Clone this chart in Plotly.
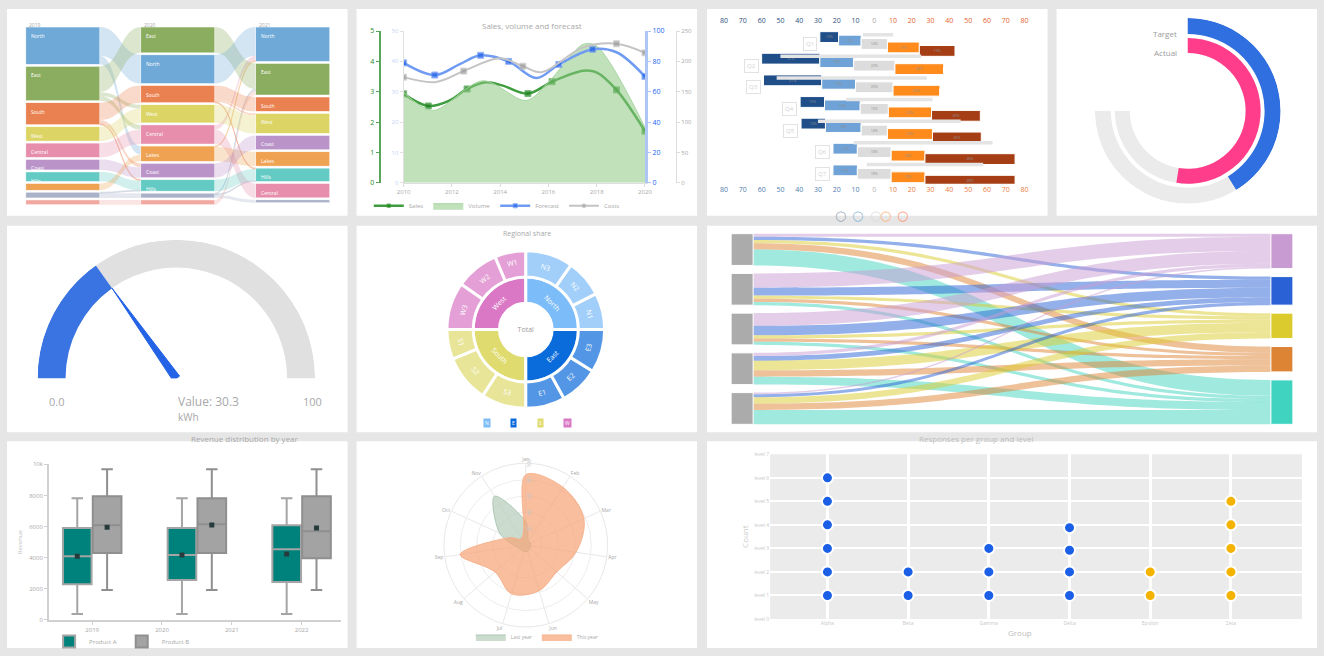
import plotly.graph_objects as go

W, H = 1324, 656
# the captured page comes out about 1.2% smaller round its centre; lay out a touch wider
SHRINK = 0.988
PAGE_BG = "#e6e6e6"
GREY_TEXT = "#a8a8a8"

# panel rectangles in page pixels: (left, top, right, bottom)
PANELS = [
    (8, 8, 348, 215), (357, 8, 697, 215), (707, 8, 1047, 215), (1056, 8, 1316, 215),
    (8, 225, 348, 432), (357, 225, 697, 432), (707, 225, 1316, 432),
    (8, 441, 348, 648), (357, 441, 697, 648), (707, 441, 1316, 648),
]

# --- A: alluvial (3 stages) ---
A_STAGES = ["2019", "2020", "2021"]
A_CATS = ["North", "East", "South", "West", "Central", "Coast", "Hills", "Lakes", "Isles", "Other"]
A_COLORS = ["#6ea9d7", "#8bad5f", "#ea8151", "#dcd566", "#e68eab",
            "#ba93c9", "#63cbc4", "#f0a253", "#a9b2c9", "#f1a8a0"]
A_STAGE_VALUES = [
    [39, 36, 23, 15, 15, 11, 10, 7, 6, 5],
    [30, 27, 18, 19, 20, 15, 12, 16, 5, 5],
    [36, 33, 15, 21, 15, 15, 14, 15, 3, 0],
]
A_STAGE_ORDER = [
    [0, 1, 2, 3, 4, 5, 6, 7, 8, 9],
    [1, 0, 2, 3, 4, 7, 5, 6, 8, 9],
    [0, 1, 2, 3, 5, 7, 6, 4, 8],
]
# (from category, to category, amount) between consecutive stages
A_MOVES = [
    [(0, 7, 9), (1, 4, 5), (1, 3, 4), (2, 5, 4), (2, 6, 1), (8, 6, 1)],
    [(4, 0, 5), (7, 0, 1), (9, 1, 5), (8, 1, 1), (2, 3, 2), (2, 6, 1), (8, 6, 1)],
]

# --- B: multi-axis lines ---
B_TICKS = [0, 2, 4, 6, 8, 10]
B_TICK_TEXT = ["2010", "2012", "2014", "2016", "2018", "2020"]
B_SALES_X = [0, 1.02, 1.9, 2.63, 3.42, 4.11, 5.15, 6.15, 7.44, 7.99, 8.82, 10]
B_SALES_Y = [2.93, 2.53, 2.71, 3.09, 3.31, 3.2, 2.94, 3.33, 3.69, 3.64, 3.06, 1.70]
B_SALES_MARK = [1, 1, 0, 1, 0, 0, 1, 1, 0, 0, 1, 1]
B_AREA_X = [0, 1.2, 3.28, 5.08, 6.05, 7.44, 7.99, 10]
B_AREA_Y = [29.8, 23.8, 33.6, 27.1, 33.6, 45.6, 45.1, 18.3]
B_PLAN_X = [0, 1.29, 2.31, 3.19, 4.35, 5.5, 6.43, 7.83, 8.82, 10]
B_PLAN_Y = [79, 71, 78, 84, 80, 69, 78, 88, 86, 70]
B_PLAN_MARK = [1, 1, 0, 1, 1, 0, 1, 1, 0, 1]
B_COST_X = [0, 1.34, 2.49, 3.98, 4.94, 5.71, 7.44, 8.82, 10]
B_COST_Y = [174, 166, 184, 205, 192, 182, 223, 229, 214]
B_COST_MARK = [1, 0, 1, 0, 1, 0, 0, 1, 1]

# --- C: diverging likert bars ---
C_ROWS = ["Q1", "Q2", "Q3", "Q4", "Q5", "Q6", "Q7"]
C_LEVELS = ["Strongly disagree", "Disagree", "Neutral", "Agree", "Strongly agree"]
C_COLORS = ["#1f4e89", "#6fa2d6", "#dcdcdc", "#ff8b1c", "#a63e15"]
C_STRONG_NEG = [10, 31, 31, 13, 13, 0, 0]
C_NEG = [12, 18, 18, 19, 19, 13, 13]
C_NEUTRAL = [14, 22, 20, 15, 14, 18, 18]
C_POS = [17, 26, 25, 23, 24, 18, 18]
C_STRONG_POS = [19, 0, 0, 26, 26, 48, 48]
C_SPAN_LO = [-6, -50, -52, -15, -30, -11, -4]
C_SPAN_HI = [10, 25, 28, 31, 46, 63, 58]
C_TICKS = list(range(-80, 81, 10))
C_ICON_COLORS = ["#9aa6b6", "#8db7d8", "#dedede", "#ffb37a", "#ff8f6e"]

# --- D: radial progress ---
D_SERIES = ["Target", "Actual"]
D_VALUES = [55, 70]
D_MAX = 100
D_COLORS = ["#2f6fe0", "#ff3d8a"]

# --- E: gauge ---
E_VALUE = 30.3
E_MIN, E_MAX = 0, 100

# --- F: sunburst (groups listed counterclockwise from 12 o'clock) ---
F_ROOT = "Total"
F_GROUPS = ["West", "South", "East", "North"]
F_GROUP_COLORS = ["#da78c6", "#dfdb6f", "#0a6bdb", "#7cbcf8"]
F_LEAVES = [["W1", "W2", "W3"], ["S1", "S2", "S3"], ["E1", "E2", "E3"], ["N1", "N2", "N3"]]
F_LEAF_VALUES = [[23, 32, 35], [22, 35, 33], [29, 29, 32], [27, 28, 35]]
F_LEGEND_ORDER = [3, 2, 1, 0]

# --- G: sankey ---
G_SOURCES = ["Web", "Store", "Phone", "Partner", "Email"]
G_TARGETS = ["Basic", "Plus", "Pro", "Team", "Enterprise"]
G_TARGET_COLORS = ["#c99bd3", "#2a62d6", "#dccb2e", "#dd8434", "#3fd3c0"]
G_FLOWS = [
    [2, 2, 2, 4, 10],
    [9, 5, 2, 2, 2],
    [8, 6, 2, 2, 2],
    [2, 3, 6, 4, 5],
    [1, 2, 4, 4, 9],
]

# --- H: box plots ---
H_POSITIONS = [0, 1.5, 3]
H_TICKS = [0, 1, 2, 3]
H_TICK_TEXT = ["2019", "2020", "2021", "2022"]
H_SERIES = ["Product A", "Product B"]
H_COLORS = ["#00827c", "#a3a3a3"]
H_LOW = [[380, 380, 380], [1920, 1920, 1920]]
H_Q1 = [[2300, 2560, 2440], [4300, 4300, 3970]]
H_MED = [[4100, 4170, 4550], [6090, 6150, 5700]]
H_Q3 = [[5900, 5900, 6090], [7950, 7820, 7950]]
H_HIGH = [[7820, 7820, 7820], [9680, 9680, 9680]]
H_MEAN = [[4100, 4170, 4230], [5960, 6100, 5900]]

# --- I: radar ---
I_AXES = ["Jan", "Feb", "Mar", "Apr", "May", "Jun", "Jul", "Aug", "Sep", "Oct", "Nov"]
I_LAST = [28, 6, 6, 6, 6, 8, 8, 8, 12, 35, 71]
I_THIS = [86, 84, 78, 62, 50, 58, 62, 50, 81, 22, 10]

# --- J: dot strips ---
J_GROUPS = ["Alpha", "Beta", "Gamma", "Delta", "Epsilon", "Zeta"]
J_LEVELS = [[1, 2, 3, 4, 5, 6], [1, 2], [1, 2, 3], [1, 2, 2.92, 3.88], [1, 2], [1, 2, 3, 4, 5]]
J_COLORS = ["#1a5fe6", "#1a5fe6", "#1a5fe6", "#1a5fe6", "#f5b301", "#f5b301"]


def fx(x):
    return (W / 2 + (x - W / 2) / SHRINK) / W


def fy(y):
    return 1 - (H / 2 + (y - H / 2) / SHRINK) / H


def rgba(color, alpha):
    c = color.lstrip("#")
    return f"rgba({int(c[0:2], 16)},{int(c[2:4], 16)},{int(c[4:6], 16)},{alpha})"


def note(x, y, text, size=7, color=GREY_TEXT, **kw):
    return dict(x=fx(x), y=fy(y), xref="paper", yref="paper", text=text, showarrow=False,
                font=dict(size=size, color=color), **kw)


def build_alluvial():
    x0, x1, y0, y1 = 35, 322, 26, 204
    thick, pad = 74, 2
    span = y1 - y0
    col_x = [0.1, 0.5, 0.9]
    ky = min((span - (len(order) - 1) * pad) / sum(A_STAGE_VALUES[s][c] for c in order)
             for s, order in enumerate(A_STAGE_ORDER))
    index, colors, xs, ys, notes = {}, [], [], [], []
    for s, order in enumerate(A_STAGE_ORDER):
        left = x0 + col_x[s] * (x1 - x0) - thick / 2
        notes.append(note(left + 1, 19, A_STAGES[s], size=5, xanchor="left"))
        top = 0
        for c in order:
            h = A_STAGE_VALUES[s][c] * ky
            index[(s, c)] = len(colors)
            colors.append(A_COLORS[c])
            xs.append(col_x[s])
            ys.append((top + h / 2) / span)
            if h > 9:
                notes.append(note(left + 3, y0 + top + 4, A_CATS[c], size=5, color="white",
                                  xanchor="left"))
            top += h + pad
    src, tgt, val, lcol = [], [], [], []
    for s, moves in enumerate(A_MOVES):
        given = [0] * len(A_CATS)
        for a, b, v in moves:
            given[a] += v
            src.append(index[(s, a)])
            tgt.append(index[(s + 1, b)])
            val.append(v)
            lcol.append(rgba(A_COLORS[a], 0.3))
        for c in A_STAGE_ORDER[s]:
            v = A_STAGE_VALUES[s][c] - given[c]
            if v > 0:
                src.append(index[(s, c)])
                tgt.append(index[(s + 1, c)])
                val.append(v)
                lcol.append(rgba(A_COLORS[c], 0.3))
    trace = go.Sankey(
        domain=dict(x=[fx(x0), fx(x1)], y=[fy(y1), fy(y0)]),
        arrangement="snap", hoverinfo="none",
        node=dict(label=[""] * len(colors), color=colors, x=xs, y=ys, pad=pad,
                  thickness=thick, line=dict(color="white", width=0.5)),
        link=dict(source=src, target=tgt, value=val, color=lcol),
    )
    return trace, notes


def build_sankey():
    x0, x1, y0, y1 = 731, 1292, 233, 424
    thick, pad = 22, 8
    span = y1 - y0
    out_tot = [sum(r) for r in G_FLOWS]
    in_tot = [sum(r[j] for r in G_FLOWS) for j in range(len(G_TARGETS))]
    ky = (span - (len(G_SOURCES) - 1) * pad) / sum(out_tot)
    xs, ys = [], []
    for totals, xpos in ((out_tot, thick / 2 / (x1 - x0)), (in_tot, 1 - thick / 2 / (x1 - x0))):
        top = 0
        for t in totals:
            xs.append(xpos)
            ys.append((top + t * ky / 2) / span)
            top += t * ky + pad
    n = len(G_SOURCES)
    src, tgt, val, lcol = [], [], [], []
    for i, row in enumerate(G_FLOWS):
        for j, v in enumerate(row):
            src.append(i)
            tgt.append(n + j)
            val.append(v)
            lcol.append(rgba(G_TARGET_COLORS[j], 0.5))
    return go.Sankey(
        domain=dict(x=[fx(x0), fx(x1)], y=[fy(y1), fy(y0)]),
        arrangement="snap", hoverinfo="none",
        node=dict(label=[""] * (n + len(G_TARGETS)), x=xs, y=ys, pad=pad, thickness=thick,
                  color=["#ababab"] * n + G_TARGET_COLORS, line=dict(color="white", width=1)),
        link=dict(source=src, target=tgt, value=val, color=lcol),
    )


fig = go.Figure()
annotations = []

# A
trace_a, notes_a = build_alluvial()
fig.add_trace(trace_a)
annotations += notes_a

# B
fig.add_trace(go.Scatter(
    x=B_AREA_X, y=B_AREA_Y, name="Volume", yaxis="y2", mode="lines", fill="tozeroy",
    line=dict(color="#a9d6a3", width=1, shape="spline", smoothing=0.9),
    fillcolor="rgba(140,200,130,0.55)", legendrank=2,
))
fig.add_trace(go.Scatter(
    x=B_COST_X, y=B_COST_Y, name="Costs", yaxis="y4", mode="lines+markers",
    line=dict(color="#c4c4c4", width=2, shape="spline"),
    marker=dict(color="#9a9a9a", size=[6 if m else 0 for m in B_COST_MARK], symbol="square"),
    legendrank=4,
))
fig.add_trace(go.Scatter(
    x=B_PLAN_X, y=B_PLAN_Y, name="Forecast", yaxis="y3", mode="lines+markers",
    line=dict(color="#6f9bf2", width=2.5, shape="spline"),
    marker=dict(color="#1f5fe8", size=[6 if m else 0 for m in B_PLAN_MARK], symbol="square"),
    legendrank=3,
))
fig.add_trace(go.Scatter(
    x=B_SALES_X, y=B_SALES_Y, name="Sales", yaxis="y", mode="lines+markers",
    line=dict(color="#3e9c3e", width=2.5, shape="spline"),
    marker=dict(color="#1a7f1a", size=[6 if m else 0 for m in B_SALES_MARK], symbol="square"),
    legendrank=1,
))
annotations.append(note(532, 17, "Sales, volume and forecast", size=8))

# C
c_left = [-(a + b + n / 2) for a, b, n in zip(C_STRONG_NEG, C_NEG, C_NEUTRAL)]
c_bases = [
    c_left,
    [l + a for l, a in zip(c_left, C_STRONG_NEG)],
    [-n / 2 for n in C_NEUTRAL],
    [n / 2 for n in C_NEUTRAL],
    [n / 2 + p for n, p in zip(C_NEUTRAL, C_POS)],
]
c_values = [C_STRONG_NEG, C_NEG, C_NEUTRAL, C_POS, C_STRONG_POS]
rows = list(range(len(C_ROWS)))
for level, vals, base, color in zip(C_LEVELS, c_values, c_bases, C_COLORS):
    fig.add_trace(go.Bar(
        x=vals, y=rows, base=base, orientation="h", name=level, width=0.5,
        xaxis="x2", yaxis="y5", showlegend=False,
        marker=dict(color=color, line=dict(color="white", width=1)),
        text=[f"{v}%" if v else "" for v in vals], textposition="inside",
        insidetextanchor="middle", textfont=dict(size=6, color="#8f8f8f"),
    ))
span_x, span_y = [], []
for i, (lo, hi) in enumerate(zip(C_SPAN_LO, C_SPAN_HI)):
    span_x += [lo, hi, None]
    span_y += [i - 0.43, i - 0.43, None]
fig.add_trace(go.Scatter(x=span_x, y=span_y, xaxis="x3", yaxis="y5", mode="lines",
                         line=dict(color="#e4e4e4", width=3.5), showlegend=False,
                         hoverinfo="skip"))
for i, name in enumerate(C_ROWS):
    annotations.append(dict(x=c_left[i] - 1.5, y=i, xref="x2", yref="y5", text=name,
                            showarrow=False, xanchor="right", font=dict(size=6, color="#d2d2d2"),
                            bgcolor="white", bordercolor="#e2e2e2", borderwidth=1, borderpad=2))
for k, color in enumerate(C_ICON_COLORS):
    annotations.append(dict(x=fx(840 + 17.5 * k), y=fy(205), xref="paper", yref="paper",
                            text="○", showarrow=False,
                            font=dict(family="DejaVu Sans", size=13, color=color)))


def tick_labels(neg, mid, pos):
    return [f"<span style='color:{neg if v < 0 else pos if v > 0 else mid}'>{abs(v)}</span>"
            for v in C_TICKS]


# D
track_theta = 270
for ring, (base, width) in enumerate(((77, 16), (58, 15))):
    fig.add_trace(go.Barpolar(r=[width], base=[base], theta=[track_theta / 2], width=[track_theta],
                              marker=dict(color="#ebebeb", line=dict(width=0)),
                              subplot="polar", showlegend=False, hoverinfo="skip"))
    ang = D_VALUES[ring] / D_MAX * track_theta
    fig.add_trace(go.Barpolar(r=[width], base=[base], theta=[ang / 2], width=[ang],
                              marker=dict(color=D_COLORS[ring], line=dict(width=0)),
                              name=D_SERIES[ring], subplot="polar", showlegend=False))
annotations.append(note(1178, 25, D_SERIES[0], size=8, color="#9a9a9a", xanchor="right"))
annotations.append(note(1178, 44, D_SERIES[1], size=8, color="#9a9a9a", xanchor="right"))

# E
frac = (E_VALUE - E_MIN) / (E_MAX - E_MIN)
fig.add_trace(go.Barpolar(r=[28], base=[111], theta=[90], width=[180], subplot="polar2",
                          marker=dict(color="#e0e0e0", line=dict(width=0)),
                          showlegend=False, hoverinfo="skip"))
fig.add_trace(go.Barpolar(r=[28], base=[111], theta=[frac * 90], width=[frac * 180],
                          subplot="polar2", marker=dict(color="#3a74e3", line=dict(width=0)),
                          showlegend=False))
needle = frac * 180
fig.add_trace(go.Scatterpolar(r=[4, 111, 4, 4], theta=[needle - 90, needle, needle + 90, needle - 90],
                              mode="lines", fill="toself", fillcolor="#2463e6",
                              line=dict(color="#2463e6", width=1), subplot="polar2",
                              showlegend=False, hoverinfo="skip"))
annotations += [
    note(48, 401, f"{E_MIN:.1f}", size=11),
    note(177, 401, f"Value: {E_VALUE}", size=12),
    note(302, 401, f"{E_MAX}", size=11),
    note(177, 417, "kWh", size=10),
]

# F
ids, labels, parents, values, colors = [F_ROOT], [F_ROOT], [""], [0], ["white"]
for g, gcolor, leaves, lvals in zip(F_GROUPS, F_GROUP_COLORS, F_LEAVES, F_LEAF_VALUES):
    ids.append(g); labels.append(g); parents.append(F_ROOT); values.append(0); colors.append(gcolor)
    for leaf, v in zip(leaves, lvals):
        ids.append(f"{g}-{leaf}"); labels.append(leaf); parents.append(g); values.append(v)
        colors.append(gcolor)
fig.add_trace(go.Sunburst(
    ids=ids, labels=labels, parents=parents, values=values, sort=False, rotation=90,
    domain=dict(x=[fx(447), fx(605)], y=[fy(408), fy(250)]),
    marker=dict(colors=colors, line=dict(color="white", width=3)),
    textfont=dict(size=7, color=["#9a9a9a"] + ["white"] * (len(ids) - 1)),
    insidetextorientation="tangential", hoverinfo="label+value",
))
annotations.append(note(527, 233, "Regional share", size=7))
for k, gi in enumerate(F_LEGEND_ORDER):
    annotations.append(note(487 + 27 * k, 423, F_GROUPS[gi][0], size=5, color="white",
                            bgcolor=F_GROUP_COLORS[gi], borderpad=1))

# G
fig.add_trace(build_sankey())

# H
slot = (H_POSITIONS[1] - H_POSITIONS[0]) * (1 - 0.43) / 2
for k, name in enumerate(H_SERIES):
    fig.add_trace(go.Box(
        x=H_POSITIONS, q1=H_Q1[k], median=H_MED[k], q3=H_Q3[k], lowerfence=H_LOW[k],
        upperfence=H_HIGH[k], name=name, fillcolor=H_COLORS[k],
        line=dict(color="#a5a5a5" if k == 0 else "#8f8f8f", width=2), whiskerwidth=0.4,
        xaxis="x4", yaxis="y6", legend="legend4", boxpoints=False, hoverinfo="skip",
    ))
    offset = slot / 2 * (1 if k else -1)
    fig.add_trace(go.Scatter(
        x=[p + offset for p in H_POSITIONS], y=H_MEAN[k], mode="markers", xaxis="x4", yaxis="y6",
        marker=dict(symbol="square", size=5, color="#263c3c"), showlegend=False, hoverinfo="skip",
    ))
annotations.append(note(190, 446, "Revenue distribution by year", size=8))

# I
for name, vals, fill, line in (("Last year", I_LAST, "rgba(185,208,190,0.75)", "rgba(170,195,175,0.9)"),
                               ("This year", I_THIS, "rgba(245,165,120,0.72)", "rgba(245,175,135,0.9)")):
    fig.add_trace(go.Scatterpolar(
        r=vals + vals[:1], theta=I_AXES + I_AXES[:1], name=name, subplot="polar3",
        mode="lines", fill="toself", fillcolor=fill, line=dict(color=line, width=1, shape="spline"),
        legend="legend5",
    ))

# J
jx, jy, jc = [], [], []
for k, levels in enumerate(J_LEVELS):
    jx += [k] * len(levels)
    jy += levels
    jc += [J_COLORS[k]] * len(levels)
fig.add_trace(go.Scatter(x=jx, y=jy, mode="markers", xaxis="x5", yaxis="y7", showlegend=False,
                         marker=dict(size=11, color=jc, line=dict(color="white", width=2))))
annotations.append(note(1034, 446, "Responses per group and level", size=8, color="#bdbdbd"))
annotations.append(note(1033, 640, "Group", size=8, color="#bdbdbd"))

shapes = [dict(type="rect", xref="paper", yref="paper", x0=fx(a), x1=fx(c), y0=fy(d), y1=fy(b),
               fillcolor="white", line=dict(width=0), layer="below") for a, b, c, d in PANELS]
shapes.append(dict(type="rect", xref="x5 domain", yref="y7 domain", x0=0, x1=1, y0=0, y1=1,
                   fillcolor="#ebebeb", line=dict(width=0), layer="below"))

small = dict(size=6, color=GREY_TEXT)
fig.update_layout(
    autosize=True, margin=dict(l=0, r=0, t=0, b=0),
    paper_bgcolor=PAGE_BG, plot_bgcolor="white",
    font=dict(family="Open Sans", color=GREY_TEXT),
    shapes=shapes, annotations=annotations,
    boxmode="group", boxgap=0.43, boxgroupgap=0.04,
    # B axes
    xaxis=dict(domain=[fx(404), fx(645)], anchor="y", range=[0, 10], tickvals=B_TICKS,
               ticktext=B_TICK_TEXT, tickfont=small, showgrid=False, zeroline=False,
               showline=True, linecolor="#dddddd", ticks="outside", ticklen=3, tickcolor="#dddddd"),
    yaxis=dict(domain=[fy(182), fy(30)], anchor="free", position=fx(380), range=[0, 5],
               tickvals=[0, 1, 2, 3, 4, 5], tickfont=dict(size=7, color="#1f8a1f"),
               showgrid=False, zeroline=False, showline=True, linecolor="#5aa55a", linewidth=2,
               ticks="outside", ticklen=3, tickcolor="#5aa55a"),
    yaxis2=dict(overlaying="y", anchor="x", side="left", range=[0, 50],
                tickvals=[0, 10, 20, 30, 40, 50], tickfont=dict(size=6, color="#c5d5f5"),
                showgrid=False, zeroline=False, showline=True, linecolor="#e0e0e0",
                ticks="outside", ticklen=3, tickcolor="#e0e0e0"),
    yaxis3=dict(overlaying="y", anchor="x", side="right", range=[0, 100],
                tickvals=[0, 20, 40, 60, 80, 100], tickfont=dict(size=7, color="#1a5ff0"),
                showgrid=False, zeroline=False, showline=True, linecolor="#adc6f5", linewidth=3,
                ticks="outside", ticklen=3, tickcolor="#adc6f5"),
    yaxis4=dict(overlaying="y", anchor="free", side="right", position=fx(676), range=[0, 250],
                tickvals=[0, 50, 100, 150, 200, 250], tickfont=small, showgrid=False,
                zeroline=False, showline=True, linecolor="#dddddd", ticks="outside", ticklen=3,
                tickcolor="#dddddd"),
    legend=dict(x=fx(497), y=fy(205), xanchor="center", yanchor="middle", orientation="h",
                font=small, bgcolor="rgba(0,0,0,0)", itemwidth=30),
    # C axes: rows sit 21.67 px apart from y=43
    xaxis2=dict(domain=[fx(715), fx(1035)], anchor="y5", range=[-84.8, 85.9], tickvals=C_TICKS,
                ticktext=tick_labels("#4f7db0", "#b5b5b5", "#ea7b42"), tickfont=dict(size=7),
                showgrid=False, zeroline=False, showline=False),
    xaxis3=dict(overlaying="x2", matches="x2", anchor="y5", side="top", tickvals=C_TICKS,
                ticktext=tick_labels("#2d4f7c", "#a8a8a8", "#e5612b"), tickfont=dict(size=7),
                showgrid=False, zeroline=False, showline=False),
    yaxis5=dict(domain=[fy(183), fy(24)], anchor="x2", range=[6.46, -0.877], visible=False),
    # H axes
    xaxis4=dict(domain=[fx(50), fx(341)], anchor="y6", range=[-0.617, 3.558], tickvals=H_TICKS,
                ticktext=H_TICK_TEXT, tickfont=small, showgrid=False, zeroline=False,
                showline=True, linecolor="#d0d0d0", linewidth=2, ticks="outside", ticklen=3,
                tickcolor="#d0d0d0"),
    yaxis6=dict(domain=[fy(620), fy(464)], anchor="x4", range=[0, 10000],
                tickvals=[0, 2000, 4000, 6000, 8000, 10000], tickfont=small, showgrid=False,
                zeroline=False, showline=True, linecolor="#d0d0d0", linewidth=2, ticks="outside",
                ticklen=3, tickcolor="#d0d0d0",
                title=dict(text="Revenue", font=dict(size=6, color="#c4c4c4"), standoff=6)),
    legend4=dict(x=fx(50), y=fy(642), xanchor="left", yanchor="middle", orientation="h",
                 font=small, bgcolor="rgba(0,0,0,0)"),
    # J axes
    xaxis5=dict(domain=[fx(770), fx(1301)], anchor="y7", range=[-0.71, 5.88],
                tickvals=list(range(len(J_GROUPS))), ticktext=J_GROUPS,
                tickfont=dict(size=5, color="#c8c8c8"), showgrid=True, gridcolor="white",
                gridwidth=3, zeroline=False, showline=False),
    yaxis7=dict(domain=[fy(619), fy(454)], anchor="x5", range=[0, 7], tickvals=list(range(8)),
                ticktext=[f"level {i}" for i in range(8)], tickfont=dict(size=5, color="#c8c8c8"),
                showgrid=True, gridcolor="white", gridwidth=2, zeroline=False, showline=False,
                title=dict(text="Count", font=dict(size=8, color="#cccccc"), standoff=4)),
    # polar subplots
    polar=dict(domain=dict(x=[fx(1094), fx(1280)], y=[fy(203), fy(17)]), bgcolor="rgba(0,0,0,0)",
               radialaxis=dict(range=[0, 93], visible=False),
               angularaxis=dict(visible=False, rotation=90, direction="clockwise")),
    polar2=dict(domain=dict(x=[fx(38), fx(316)], y=[fy(378), fy(239)]), sector=[0, 180],
                bgcolor="rgba(0,0,0,0)", radialaxis=dict(range=[0, 139], visible=False),
                angularaxis=dict(visible=False, rotation=180, direction="clockwise")),
    polar3=dict(domain=dict(x=[fx(444), fx(608)], y=[fy(627), fy(463)]), bgcolor="rgba(0,0,0,0)",
                radialaxis=dict(range=[0, 100], tickvals=[20, 40, 60, 80, 100], angle=90,
                                tickfont=dict(size=5, color="#c8c8c8"), showline=False,
                                gridcolor="#eeeeee", ticks=""),
                angularaxis=dict(rotation=90, direction="clockwise", tickfont=dict(size=5),
                                 gridcolor="#e8e8e8", linecolor="#e8e8e8", ticks="")),
    legend5=dict(x=fx(537), y=fy(637), xanchor="center", yanchor="middle", orientation="h",
                 font=dict(size=5, color=GREY_TEXT), bgcolor="rgba(0,0,0,0)"),
)

# let the plot fill the browser window exactly
fit_page = (
    f"document.body.style.margin='0';document.body.style.overflow='hidden';"
    f"document.body.style.background='{PAGE_BG}';"
    "Plotly.Plots.resize(document.getElementById('{plot_id}'));"
)
fig.write_html("out.html", config={"displayModeBar": False, "responsive": True},
               default_width="100vw", default_height="100vh", post_script=fit_page)
